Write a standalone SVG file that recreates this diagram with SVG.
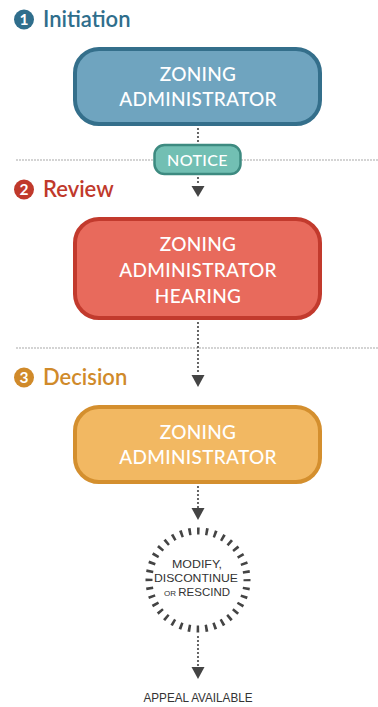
<svg xmlns="http://www.w3.org/2000/svg" width="378" height="707" viewBox="0 0 378 707">
<style>
.node-text{font-family:Lato,"Open Sans",sans-serif;font-size:19px;font-weight:500;fill:#fff;text-anchor:middle;letter-spacing:0.3px}
.title{font-family:Lato,"Open Sans",sans-serif;font-size:22px;font-weight:600}
.num{font-family:Lato,"Open Sans",sans-serif;font-size:15.5px;font-weight:700;fill:#fff;text-anchor:middle}
.vdot{stroke:#444;stroke-width:2.2;stroke-linecap:round;stroke-dasharray:0 4;fill:none}
.hdot{stroke:#9a9a9a;stroke-width:1.6;stroke-linecap:round;stroke-dasharray:0 3;fill:none}
.small{font-family:"Liberation Sans",Arial,sans-serif;fill:#333;text-anchor:middle}
</style>
<rect width="378" height="707" fill="#fff"/>

<g id="separators">
<line class="hdot" x1="17" y1="160" x2="378" y2="160"/>
<line class="hdot" x1="17" y1="348" x2="378" y2="348"/>
</g>

<g id="title1">
<circle cx="24" cy="19.5" r="10" fill="#2f6e8c"/>
<text class="num" x="24" y="25">1</text>
<text class="title" x="43" y="27" fill="#2f6e8c">Initiation</text>
</g>
<g id="title2">
<circle cx="24" cy="189.5" r="10" fill="#c0392b"/>
<text class="num" x="24" y="195">2</text>
<text class="title" x="43" y="197" fill="#c0392b">Review</text>
</g>
<g id="title3">
<circle cx="24" cy="377.5" r="10" fill="#d08a2a"/>
<text class="num" x="24" y="383">3</text>
<text class="title" x="43" y="385" fill="#d08a2a">Decision</text>
</g>

<g id="connectors">
<line class="vdot" x1="198" y1="129" x2="198" y2="144"/>
<line class="vdot" x1="198" y1="178" x2="198" y2="186"/>
<polygon points="191.5,186 204.5,186 198,197" fill="#444"/>
<line class="vdot" x1="198" y1="323" x2="198" y2="375"/>
<polygon points="191.5,375 204.5,375 198,387" fill="#444"/>
<line class="vdot" x1="198" y1="487" x2="198" y2="508"/>
<polygon points="191.5,508 204.5,508 198,520" fill="#444"/>
<line class="vdot" x1="198" y1="637" x2="198" y2="667"/>
<polygon points="191.5,667 204.5,667 198,679" fill="#444"/>
</g>

<g id="node-initiation">
<rect x="75" y="49" width="245" height="75" rx="24" fill="#6fa4bf" stroke="#346f8b" stroke-width="4"/>
<text class="node-text" x="198" y="81">ZONING</text>
<text class="node-text" x="198" y="106">ADMINISTRATOR</text>
</g>

<g id="node-notice">
<rect x="154.5" y="145" width="86" height="29" rx="10" fill="#72bfb3" stroke="#3d8a80" stroke-width="2.5"/>
<text x="197.5" y="166" font-family="Lato,'Open Sans',sans-serif" font-size="16" font-weight="500" fill="#fff" text-anchor="middle" letter-spacing="0.4">NOTICE</text>
</g>

<g id="node-hearing">
<rect x="75" y="219" width="245" height="99" rx="24" fill="#e86a5c" stroke="#c23a2d" stroke-width="4"/>
<text class="node-text" x="198" y="251">ZONING</text>
<text class="node-text" x="198" y="277">ADMINISTRATOR</text>
<text class="node-text" x="198" y="303">HEARING</text>
</g>

<g id="node-decision">
<rect x="75" y="407" width="245" height="75" rx="24" fill="#f2b862" stroke="#d48f2e" stroke-width="4"/>
<text class="node-text" x="198" y="439">ZONING</text>
<text class="node-text" x="198" y="464">ADMINISTRATOR</text>
</g>

<g id="node-outcome">
<circle cx="198" cy="580" r="49" fill="none" stroke="#444" stroke-width="7" stroke-dasharray="2.6 5.95" stroke-dashoffset="1.3"/>
<text class="small" x="197" y="568" font-size="11.5" textLength="50" lengthAdjust="spacingAndGlyphs">MODIFY,</text>
<text class="small" x="196" y="582" font-size="11.5" textLength="84" lengthAdjust="spacingAndGlyphs">DISCONTINUE</text>
<text class="small" x="197" y="596" font-size="11.5"><tspan font-size="8">OR </tspan>RESCIND</text>
</g>

<g id="node-appeal">
<text class="small" x="198" y="702" font-size="12" textLength="109" lengthAdjust="spacingAndGlyphs" fill="#444">APPEAL AVAILABLE</text>
</g>
</svg>
